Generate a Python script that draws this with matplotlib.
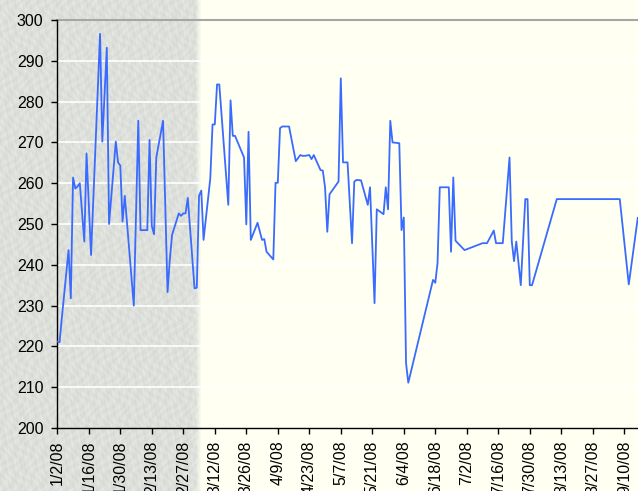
import numpy as np
import pandas as pd
import matplotlib
matplotlib.use("Agg")
import matplotlib.pyplot as plt

plt.rcParams['font.family'] = ['Liberation Sans', 'DejaVu Sans']

start_date = "2008-01-02"
day_offsets = [0, 1, 2, 5, 6, 7, 8, 9, 10, 12, 13, 15, 19, 20, 22, 23, 26, 27, 28, 29,
               30, 34, 36, 37, 40, 41, 42, 43, 44, 47, 49, 50, 51, 54, 55, 56, 57, 58,
               61, 62, 63, 64, 65, 68, 69, 70, 71, 72, 76, 77, 78, 79, 83, 84, 85, 86,
               89, 91, 92, 93, 96, 97, 98, 99, 100, 103, 106, 108, 109, 110, 112, 113,
               114, 117, 118, 119, 120, 121, 125, 126, 127, 129, 131, 132, 133, 135,
               138, 139, 141, 142, 145, 146, 147, 148, 149, 152, 153, 154, 155, 156,
               167, 168, 169, 170, 174, 175, 176, 177, 181, 189, 191, 194, 195, 198,
               201, 202, 203, 204, 206, 208, 209, 210, 211, 222, 250, 254, 258]
values = [221.2, 221.0, 226.9, 243.6, 231.8, 261.4, 258.7, 259.2, 260.0, 245.7, 267.3,
          242.4, 296.6, 270.2, 293.2, 250.0, 270.2, 265.1, 264.3, 250.6,
          256.9, 230.0, 275.3, 248.5, 248.5, 270.6, 249.5, 247.5, 266.3, 275.3, 233.3,
          241.2, 247.3, 252.6, 252.0, 252.6, 252.6, 256.4,
          234.2, 234.4, 256.9, 258.2, 246.1, 261.2, 274.4, 274.4, 284.2, 284.2, 254.7,
          280.3, 271.6, 271.6, 266.3, 249.9, 272.6, 246.1,
          250.3, 246.1, 246.3, 243.2, 241.3, 260.1, 260.1, 273.5, 273.9, 273.9, 265.4,
          266.9, 266.7, 266.7, 266.9, 265.9,
          266.9, 263.2, 263.1, 259.0, 248.1, 257.3, 260.4, 285.7, 265.1, 265.1, 245.3,
          260.4, 260.8, 260.7,
          254.7, 259.0, 230.6, 253.6, 252.4, 259.0, 253.6, 275.3, 270.0, 269.8, 248.5,
          251.6, 215.9, 211.1,
          236.3, 235.6, 240.4, 259.0, 259.0, 243.2, 261.4, 245.9, 243.6, 245.3, 245.3,
          248.4, 245.3, 245.3,
          266.3, 245.7, 240.9, 245.7, 235.0, 256.1, 256.1, 235.0, 235.0, 256.1, 256.1,
          235.2, 251.5]

y_ticks = [200, 210, 220, 230, 240, 250, 260, 270, 280, 290, 300]
tick_step_days = 14
shade_end_day = 64.3
x_end_day = 258.1

t0 = pd.Timestamp(start_date)
dates = t0 + pd.to_timedelta(day_offsets, unit="D")

W, H = 638, 491
fig = plt.figure(figsize=(W / 100, H / 100), dpi=100, facecolor="#FFFFF2")

ax_left_px, ax_top_px, ax_bottom_px = 57.3, 20, 428
ax = fig.add_axes([ax_left_px / W, 1 - ax_bottom_px / H, 1 - ax_left_px / W,
                   (ax_bottom_px - ax_top_px) / H])
ax.set_facecolor("none")
ax.set_zorder(2)

# shaded textured region (figure pixels), deterministic mottled texture
shade_px = int(ax_left_px + shade_end_day * 2.25)
yy, xx = np.mgrid[0:H, 0:shade_px].astype(float)
tex = (np.sin(xx * 0.61 + 1.7 * np.sin(yy * 0.23)) * np.sin(yy * 0.47 + 1.3 * np.cos(xx * 0.19))
       + 0.6 * np.sin(xx * 1.37 + yy * 0.83) * np.cos(yy * 1.11 - xx * 0.29))
tex = (tex - tex.min()) / (tex.max() - tex.min())
base = np.array([212, 214, 209]) / 255.0
light = np.array([232, 234, 229]) / 255.0
img = base[None, None, :] * (1 - tex[..., None]) + light[None, None, :] * tex[..., None]
fade = np.clip((shade_px - xx) / 6.0, 0, 1)[..., None]
cream = np.array([255, 255, 242]) / 255.0
img = img * fade + cream[None, None, :] * (1 - fade)
fig.figimage(np.clip(img, 0, 1), xo=0, yo=0, origin="upper", zorder=-1)

for v in y_ticks[1:-1]:
    ax.axhline(v, color="white", lw=1.2, zorder=1)
ax.axhline(300, color="#A6A6A6", lw=1.5, zorder=1, clip_on=False)

ax.plot(dates, values, color="#3A6BFF", lw=1.3, zorder=3)

xt = pd.date_range(t0, t0 + pd.Timedelta(days=x_end_day), freq=f"{tick_step_days}D")
ax.set_xticks(xt)
ax.set_xticklabels([f"{d.month}/{d.day}/{d.strftime('%y')}" for d in xt], rotation=90,
                   va="top", ha="center")
ax.set_yticks(y_ticks)
ax.set_ylim(200, 300)
ax.set_xlim(t0, t0 + pd.Timedelta(days=x_end_day))

for s in ["top", "right"]:
    ax.spines[s].set_visible(False)
for s in ["left", "bottom"]:
    ax.spines[s].set_color("black")
    ax.spines[s].set_linewidth(1.0)
ax.tick_params(axis="both", direction="out", length=4, width=1, color="black",
               labelsize=11.5, labelcolor="black")
ax.tick_params(axis="y", pad=6)
ax.tick_params(axis="x", pad=5)

fig.savefig("out.png", dpi=100, facecolor=fig.get_facecolor())
